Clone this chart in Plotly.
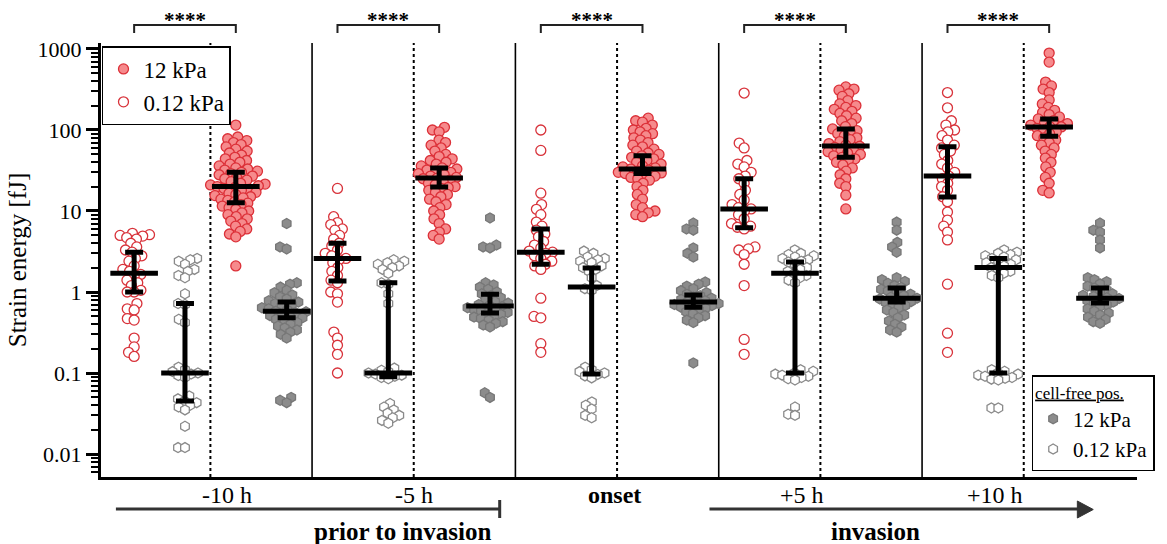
import math
import numpy as np
import plotly.graph_objects as go

# ---------------------------------------------------------------------------
# Strain energy [fJ] per time point, four conditions
# ---------------------------------------------------------------------------
timepoints = ["-10 h", "-5 h", "onset", "+5 h", "+10 h"]

# 0.12 kPa substrate, cell positions
soft_cell_m10 = [5.3, 5.1, 5.0, 4.9, 4.7, 4.5, 4.0, 3.6, 3.3, 3.1, 2.8, 2.6, 2.4, 2.1, 1.9, 1.8,
                 1.65, 1.55, 1.4, 1.3, 1.2, 1.05, 1.0, 1.0, 0.72, 0.62, 0.6, 0.47, 0.45, 0.27,
                 0.21, 0.18, 0.16]
soft_cell_m5 = [19, 8.5, 7.2, 6.8, 6.0, 5.8, 5.0, 4.5, 4.0, 3.7, 3.3, 3.0, 2.8, 2.6, 2.5, 2.3,
                2.0, 1.8, 1.6, 1.4, 1.3, 1.0, 0.95, 0.75, 0.32, 0.27, 0.22, 0.17, 0.1]
soft_cell_on = [100, 56, 16.6, 12, 10.5, 9, 7.3, 6.5, 5.8, 5.2, 4.8, 4.2, 3.8, 3.5, 3.2, 3.1,
                3.0, 2.8, 2.6, 2.4, 2.2, 2.1, 1.9, 0.84, 0.5, 0.48, 0.23, 0.18]
soft_cell_p5 = [286, 69, 60, 42, 38, 35, 30, 27, 25, 22, 18, 16, 13.7, 12, 11, 10.6, 10, 9, 8,
                7, 6.5, 6.3, 6.0, 3.6, 3.4, 3.3, 2.9, 2.2, 1.2, 0.26, 0.17]
soft_cell_p10 = [290, 188, 130, 115, 100, 95, 85, 75, 65, 60, 55, 50, 42, 38, 34, 30, 27, 25,
                 22, 20, 18, 15, 13, 9.7, 7.7, 6.5, 5.5, 4.4, 1.25, 0.31, 0.18]

# 0.12 kPa substrate, cell-free positions
soft_free_m10 = [2.6, 2.5, 2.4, 2.2, 1.9, 1.8, 1.6, 1.5, 0.95, 0.72, 0.7, 0.46, 0.42, 0.118,
                 0.11, 0.104, 0.1, 0.097, 0.093, 0.088, 0.052, 0.048, 0.045, 0.043, 0.04, 0.038,
                 0.035, 0.022, 0.012, 0.012]
soft_free_m5 = [2.5, 2.4, 2.3, 2.2, 2.1, 2.0, 1.9, 1.7, 1.3, 1.25, 0.95, 0.72, 0.115, 0.108,
                0.104, 0.1, 0.097, 0.094, 0.091, 0.088, 0.085, 0.042, 0.038, 0.035, 0.032, 0.03,
                0.028, 0.026, 0.024]
soft_free_on = [3.2, 3.0, 2.7, 2.6, 2.5, 2.4, 2.3, 2.1, 2.0, 1.9, 1.8, 1.5, 1.2, 1.1, 1.05,
                0.118, 0.11, 0.104, 0.1, 0.096, 0.092, 0.087, 0.044, 0.04, 0.036, 0.03, 0.028]
soft_free_p5 = [3.3, 3.0, 2.9, 2.8, 2.7, 2.6, 2.5, 2.4, 2.35, 2.2, 2.0, 1.9, 1.8, 1.7, 1.6,
                1.5, 1.4, 1.3, 0.11, 0.105, 0.1, 0.097, 0.094, 0.091, 0.088, 0.085, 0.082, 0.038,
                0.031, 0.03]
soft_free_p10 = [3.3, 3.1, 3.0, 2.9, 2.8, 2.7, 2.6, 2.5, 2.4, 2.3, 2.2, 2.1, 2.0, 1.9, 1.8,
                 1.7, 1.6, 1.5, 0.11, 0.105, 0.1, 0.097, 0.094, 0.091, 0.088, 0.086, 0.084, 0.082,
                 0.037, 0.037]

# 12 kPa substrate, cell positions
stiff_cell_m10 = [115, 82, 78, 74, 70, 66, 62, 58, 55, 52, 49, 46, 44, 42, 40, 38, 36, 34, 33,
                  32, 31, 30, 29, 28, 27, 26, 25, 24, 23, 22, 21.5, 21, 20.5, 20, 19.5, 19, 18.5,
                  18, 17, 16.5, 16, 15.5, 15, 14.5, 14, 13.5, 13, 12.5, 12, 11.5, 11, 10.5, 10,
                  9.5, 9, 8.5, 8, 7.5, 7, 6.5, 6, 5.6, 5.2, 4.8, 2.1]
stiff_cell_m5 = [108, 100, 95, 75, 70, 65, 60, 55, 50, 47, 44, 42, 40, 38, 36, 34, 33, 32, 31,
                 30, 29, 28, 27, 26, 25.5, 25, 24, 23, 22, 21, 20, 19.5, 19, 18, 17, 16, 15, 14,
                 13, 12, 11, 10, 9, 8, 7, 6, 5.5, 5, 4.5]
stiff_cell_on = [140, 130, 125, 115, 105, 100, 95, 90, 85, 80, 75, 70, 65, 62, 58, 55, 52, 50,
                 48, 46, 44, 42, 40, 38, 36, 35, 34, 33, 32, 31, 30, 29.5, 29, 28, 27, 26, 25,
                 24, 22, 20, 18, 16, 14, 12, 11, 10, 9.5, 9, 8.5]
stiff_cell_p5 = [340, 320, 310, 280, 260, 230, 210, 200, 190, 180, 170, 160, 150, 140, 130, 120,
                 110, 103, 98, 95, 90, 85, 80, 76, 72, 68, 65, 63, 61, 58, 56, 54, 52, 50, 48,
                 46, 44, 42, 40, 37, 34, 31, 28, 25, 22, 20, 15.7, 10.6]
stiff_cell_p10 = [890, 690, 390, 350, 320, 290, 235, 210, 190, 175, 165, 155, 145, 137, 130,
                  125, 120, 115, 110, 109, 105, 100, 95, 90, 85, 80, 75, 70, 65, 60, 55, 50, 45,
                  40, 35, 30, 26, 22, 18, 16.7]

# 12 kPa substrate, cell-free positions
stiff_free_m10 = [7.0, 3.6, 3.4, 1.3, 1.25, 1.15, 1.05, 0.98, 0.92, 0.87, 0.82, 0.78, 0.75,
                  0.72, 0.7, 0.67, 0.64, 0.62, 0.6, 0.58, 0.57, 0.55, 0.53, 0.51, 0.49, 0.48,
                  0.46, 0.44, 0.42, 0.4, 0.38, 0.36, 0.34, 0.32, 0.3, 0.27, 0.05, 0.046, 0.043]
stiff_free_m5 = [8.2, 3.8, 3.6, 3.5, 1.3, 1.22, 1.15, 1.08, 1.0, 0.95, 0.9, 0.85, 0.8, 0.76,
                 0.73, 0.7, 0.68, 0.66, 0.64, 0.62, 0.6, 0.58, 0.56, 0.55, 0.53, 0.51, 0.49,
                 0.47, 0.45, 0.43, 0.41, 0.39, 0.37, 0.057, 0.05]
stiff_free_on = [7.1, 6.0, 5.8, 3.5, 3.0, 2.7, 1.33, 1.25, 1.18, 1.1, 1.04, 0.98, 0.94, 0.9,
                 0.87, 0.84, 0.81, 0.78, 0.76, 0.74, 0.72, 0.7, 0.68, 0.66, 0.65, 0.63, 0.6,
                 0.57, 0.54, 0.51, 0.48, 0.45, 0.42, 0.133]
stiff_free_p5 = [7.3, 5.8, 4.1, 3.6, 3.1, 1.5, 1.42, 1.35, 1.28, 1.2, 1.14, 1.08, 1.03, 0.98,
                 0.94, 0.9, 0.86, 0.84, 0.82, 0.79, 0.76, 0.74, 0.71, 0.68, 0.64, 0.6, 0.56,
                 0.52, 0.48, 0.44, 0.4, 0.37, 0.34, 0.32]
stiff_free_p10 = [7.1, 5.8, 5.5, 4.4, 3.5, 1.5, 1.42, 1.34, 1.26, 1.18, 1.12, 1.06, 1.0, 0.95,
                  0.91, 0.88, 0.85, 0.83, 0.81, 0.78, 0.75, 0.72, 0.69, 0.66, 0.62, 0.58, 0.55,
                  0.52, 0.49, 0.46, 0.43, 0.41]

# median and interquartile range per time point
soft_cell_median = [1.7, 2.6, 3.1, 10.6, 27]
soft_cell_q1 = [1.0, 1.37, 2.2, 6.2, 14.9]
soft_cell_q3 = [3.1, 4.0, 6.0, 25, 62]
soft_free_median = [0.1, 0.1, 1.15, 1.7, 2.0]
soft_free_q1 = [0.045, 0.09, 0.097, 0.1, 0.1]
soft_free_q3 = [0.72, 1.3, 1.98, 2.35, 2.6]
stiff_cell_median = [20, 25.5, 33, 63.5, 109]
stiff_cell_q1 = [12.6, 19.8, 29, 46, 84]
stiff_cell_q3 = [30, 34, 48, 103, 137]
stiff_free_median = [0.58, 0.67, 0.75, 0.84, 0.84]
stiff_free_q1 = [0.48, 0.55, 0.65, 0.75, 0.73]
stiff_free_q3 = [0.75, 0.94, 0.92, 1.12, 1.12]

significance = ["****", "****", "****", "****", "****"]

# ---------------------------------------------------------------------------
# Layout geometry
# ---------------------------------------------------------------------------
W, H = 1167, 544
M_L, M_R, M_T, M_B = 101, 24, 43, 67
plot_w = W - M_L - M_R
plot_h = H - M_T - M_B
X_RANGE = [-0.538, 4.557]
Y_RANGE = [-2.284, 3.074]
px_per_x = plot_w / (X_RANGE[1] - X_RANGE[0])
px_per_decade = plot_h / (Y_RANGE[1] - Y_RANGE[0])

FONT = "Liberation Serif"


def paper_x(px):
    return (px - M_L) / plot_w


def paper_y(py):
    return (H - M_B - py) / plot_h


def swarm(values, diameter=7.0):
    """Beeswarm offsets (in x data units) so markers of one column do not pile up."""
    ys = np.log10(np.asarray(values, dtype=float)) * px_per_decade
    order = np.argsort(ys)
    placed = []
    xs = np.zeros(len(ys))
    for i in order:
        y = ys[i]
        blocked = []
        for px, py in placed:
            dy = abs(py - y)
            if dy < diameter:
                dx = math.sqrt(diameter ** 2 - dy ** 2)
                blocked.append((px - dx, px + dx))
        cands = [0.0] + [a for a, _ in blocked] + [b for _, b in blocked]
        cands.sort(key=lambda c: (abs(c), c))
        for c in cands:
            if all(not (a + 1e-6 < c < b - 1e-6) for a, b in blocked):
                xs[i] = c
                break
        placed.append((xs[i], y))
    return xs / px_per_x


series = [
    dict(name="0.12 kPa", groups=[soft_cell_m10, soft_cell_m5, soft_cell_on, soft_cell_p5, soft_cell_p10],
         med=soft_cell_median, q1=soft_cell_q1, q3=soft_cell_q3, offset=-0.375,
         symbol="circle", size=10, fill="white", edge="#d8323a", legend="legend", rank=2),
    dict(name="0.12 kPa", groups=[soft_free_m10, soft_free_m5, soft_free_on, soft_free_p5, soft_free_p10],
         med=soft_free_median, q1=soft_free_q1, q3=soft_free_q3, offset=-0.125,
         symbol="hexagon", size=10, fill="white", edge="#8a8a8a", legend="legend2", rank=4),
    dict(name="12 kPa", groups=[stiff_cell_m10, stiff_cell_m5, stiff_cell_on, stiff_cell_p5, stiff_cell_p10],
         med=stiff_cell_median, q1=stiff_cell_q1, q3=stiff_cell_q3, offset=0.125,
         symbol="circle", size=10, fill="#f68a8c", edge="#dc3038", legend="legend", rank=1),
    dict(name="12 kPa", groups=[stiff_free_m10, stiff_free_m5, stiff_free_on, stiff_free_p5, stiff_free_p10],
         med=stiff_free_median, q1=stiff_free_q1, q3=stiff_free_q3, offset=0.375,
         symbol="hexagon", size=10, fill="#8c8c8c", edge="#777777", legend="legend2", rank=3),
]

fig = go.Figure()

# individual measurements
for s in series:
    xs, ys = [], []
    for k, vals in enumerate(s["groups"]):
        offs = swarm(vals)
        xs.extend(k + s["offset"] + offs)
        ys.extend(vals)
    fig.add_trace(go.Scatter(
        x=xs, y=ys, mode="markers", name=s["name"], legend=s["legend"], legendrank=s["rank"],
        marker=dict(symbol=s["symbol"], size=s["size"], color=s["fill"],
                    line=dict(color=s["edge"], width=1.3)),
        hoverinfo="y",
    ))

# median with interquartile range
for s in series:
    med = np.array(s["med"], dtype=float)
    q1 = np.array(s["q1"], dtype=float)
    q3 = np.array(s["q3"], dtype=float)
    fig.add_trace(go.Scatter(
        x=[k + s["offset"] for k in range(len(timepoints))], y=med, mode="markers",
        showlegend=False, hoverinfo="skip",
        marker=dict(symbol="line-ew", size=34, color="black", line=dict(color="black", width=5)),
        error_y=dict(type="data", symmetric=False, array=q3 - med, arrayminus=med - q1,
                     color="black", thickness=5, width=9),
    ))

shapes = []
annotations = []
n = len(timepoints)

# panel separators and centre dotted lines
for k in range(n - 1):
    shapes.append(dict(type="line", xref="x", yref="paper", x0=k + 0.5, x1=k + 0.5, y0=0, y1=1,
                       line=dict(color="black", width=1.6), layer="below"))
for k in range(n):
    shapes.append(dict(type="line", xref="x", yref="paper", x0=k, x1=k, y0=0, y1=1,
                       line=dict(color="black", width=2, dash="dot"), layer="below"))

# significance brackets (cells on 0.12 kPa vs. cells on 12 kPa)
br_top, br_foot = paper_y(25), paper_y(33)
for k in range(n):
    xa, xb = k - 0.375, k + 0.125
    shapes.append(dict(type="path", xref="x", yref="paper",
                       path=f"M {xa},{br_foot} L {xa},{br_top} L {xb},{br_top} L {xb},{br_foot}",
                       line=dict(color="#222222", width=2)))
    annotations.append(dict(x=k - 0.125, y=paper_y(20), xref="x", yref="paper", text=f"<b>{significance[k]}</b>",
                            showarrow=False, yanchor="middle", font=dict(family=FONT, size=21, color="black")))

# time point labels below the axis
label_shift = [0.08, 0.0, -0.015, -0.09, -0.14]
for k, lab in enumerate(timepoints):
    text = f"<b>{lab}</b>" if lab == "onset" else lab
    annotations.append(dict(x=k + label_shift[k], y=paper_y(495), xref="x", yref="paper", text=text,
                            showarrow=False, yanchor="middle",
                            font=dict(family=FONT, size=24, color="black")))

# phase bars: "prior to invasion" and "invasion"
bar_col = "#333333"
shapes.append(dict(type="line", xref="paper", yref="paper", x0=paper_x(116), x1=paper_x(502),
                   y0=paper_y(509), y1=paper_y(509), line=dict(color=bar_col, width=3)))
shapes.append(dict(type="line", xref="paper", yref="paper", x0=paper_x(502), x1=paper_x(502),
                   y0=paper_y(500), y1=paper_y(518), line=dict(color=bar_col, width=3)))
shapes.append(dict(type="line", xref="paper", yref="paper", x0=paper_x(713), x1=paper_x(1086),
                   y0=paper_y(509), y1=paper_y(509), line=dict(color=bar_col, width=3)))
shapes.append(dict(type="path", xref="paper", yref="paper",
                   path=(f"M {paper_x(1083)},{paper_y(501)} L {paper_x(1099)},{paper_y(509.5)} "
                         f"L {paper_x(1083)},{paper_y(518)} Z"),
                   fillcolor=bar_col, line=dict(color=bar_col, width=1)))
annotations.append(dict(x=paper_x(313), y=paper_y(531), xref="paper", yref="paper",
                        text="<b>prior to invasion</b>", showarrow=False, yanchor="middle",
                        font=dict(family=FONT, size=25, color="black")))
annotations.append(dict(x=paper_x(927), y=paper_y(531), xref="paper", yref="paper",
                        text="<b>invasion</b>", showarrow=False, yanchor="middle",
                        font=dict(family=FONT, size=25, color="black")))

tick_vals = [0.01, 0.1, 1, 10, 100, 1000]
tick_text = ["0.01", "0.1", "1", "10", "100", "1000"]

fig.update_layout(
    width=W, height=H,
    margin=dict(l=M_L, r=M_R, t=M_T, b=M_B, pad=0),
    paper_bgcolor="white", plot_bgcolor="white",
    font=dict(family=FONT, size=22, color="black"),
    xaxis=dict(range=X_RANGE, showgrid=False, zeroline=False, showticklabels=False, ticks="",
               showline=True, linecolor="black", linewidth=3),
    yaxis=dict(type="log", range=Y_RANGE, showgrid=False, zeroline=False,
               tickvals=tick_vals, ticktext=tick_text, ticks="outside", ticklen=12, tickwidth=2.5,
               tickcolor="black", showline=True, linecolor="black", linewidth=3,
               tickfont=dict(family=FONT, size=22),
               minor=dict(ticks="outside", ticklen=7, tickwidth=2, tickcolor="black",
                          tickvals=[m * 10.0 ** e for e in range(-3, 4) for m in range(2, 10)
                                    if 10 ** Y_RANGE[0] < m * 10.0 ** e < 10 ** Y_RANGE[1]],
                          showgrid=False),
               title=dict(text="Strain energy [fJ]", font=dict(family=FONT, size=25), standoff=4)),
    legend=dict(x=paper_x(102), y=paper_y(46), xanchor="left", yanchor="top",
                bgcolor="white", bordercolor="black", borderwidth=1.5,
                font=dict(family=FONT, size=23), itemwidth=30, tracegroupgap=0,
                traceorder="normal"),
    legend2=dict(x=paper_x(1037), y=paper_y(471), xanchor="left", yanchor="bottom",
                 bgcolor="white", bordercolor="black", borderwidth=1.5,
                 font=dict(family=FONT, size=21), itemwidth=30, tracegroupgap=0,
                 traceorder="normal",
                 title=dict(text="<u>cell-free pos.</u>", font=dict(family=FONT, size=17))),
    shapes=shapes,
    annotations=annotations,
)

fig.write_html("out.html")
